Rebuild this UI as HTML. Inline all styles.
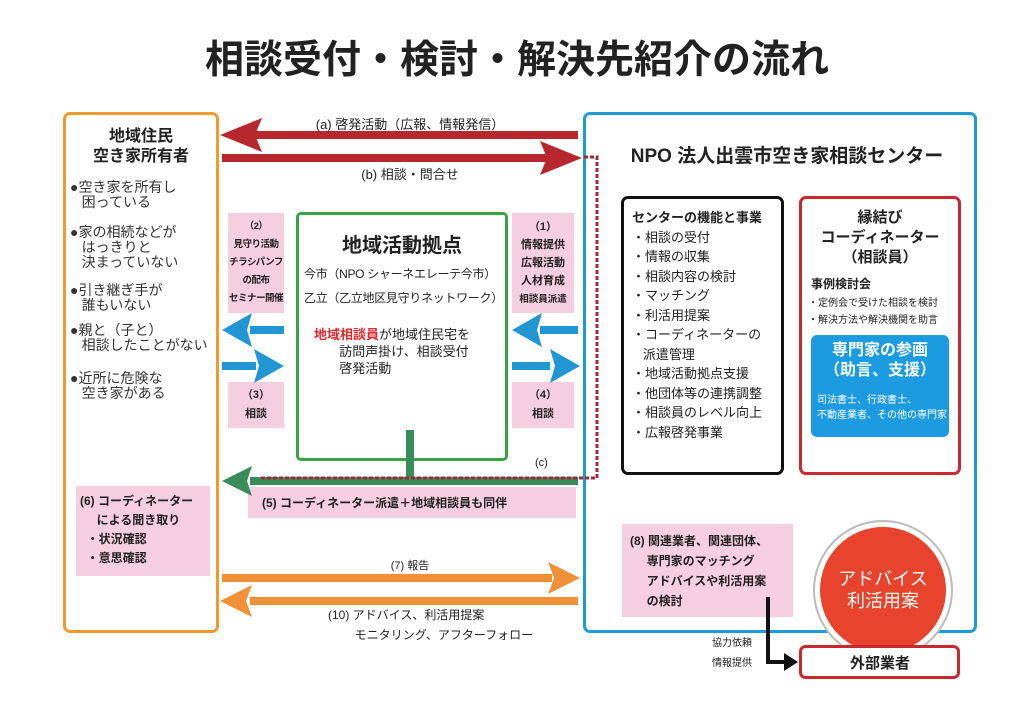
<!DOCTYPE html>
<html><head><meta charset="utf-8"><style>
body{margin:0;width:1024px;height:724px;background:#fff;position:relative;overflow:hidden;font-family:"Liberation Sans","Noto Sans CJK JP",sans-serif;color:#222}
.a{position:absolute}
.pk{position:absolute;background:#f5cfe0}
.b{font-weight:bold}
.c{text-align:center}
</style></head><body>
<div class="a b c" style="left:0;width:1034px;top:36px;font-size:39px;line-height:50px;color:#222">相談受付・検討・解決先紹介の流れ</div>

<div class="a" style="left:63px;top:112px;width:150px;height:515px;border:3px solid #f29a30;border-radius:7px"></div>
<div class="a" style="left:583px;top:112px;width:388px;height:515px;border:3px solid #1e9bd7;border-radius:7px"></div>

<div class="pk" style="left:228px;top:213px;width:56px;height:100px"></div>
<div class="pk" style="left:512px;top:213px;width:62px;height:100px"></div>
<div class="pk" style="left:228px;top:382px;width:56px;height:46px"></div>
<div class="pk" style="left:512px;top:382px;width:62px;height:46px"></div>
<div class="pk" style="left:248px;top:487px;width:328px;height:31px"></div>
<div class="pk" style="left:76px;top:486px;width:134px;height:90px"></div>
<div class="pk" style="left:622px;top:524px;width:171px;height:93px"></div>

<div class="a" style="left:296px;top:212px;width:206px;height:243px;border:3px solid #3aa148;border-radius:5px;background:#fff"></div>
<div class="a" style="left:621px;top:196px;width:157px;height:273px;border:3px solid #111;border-radius:7px"></div>
<div class="a" style="left:799px;top:196px;width:156px;height:273px;border:3px solid #c8282e;border-radius:7px"></div>
<div class="a" style="left:811px;top:335px;width:138px;height:102px;background:#1d9be0;border-radius:6px"></div>

<svg class="a" style="left:0;top:0" width="1024" height="724">
<g fill="#b7282e" stroke="none">
<rect x="255" y="131" width="323" height="8"/><polygon points="220,135 262,118 255,135 262,152"/>
<rect x="222" y="154" width="330" height="8"/><polygon points="582,158 540,141 547,158 540,175"/>
</g>
<g fill="#2295d3">
<rect x="250" y="326" width="34" height="8"/><polygon points="222,330 252,313 247,330 252,347"/>
<rect x="222" y="362" width="34" height="8"/><polygon points="284,366 254,349 259,366 254,383"/>
<rect x="540" y="326" width="38" height="8"/><polygon points="512,330 542,313 537,330 542,347"/>
<rect x="512" y="362" width="38" height="8"/><polygon points="580,366 550,349 555,366 550,383"/>
</g>
<g fill="#3a8c5a">
<rect x="406" y="430" width="8" height="52"/>
<rect x="250" y="477" width="328" height="8"/><polygon points="222,481 252,466 247,481 252,496"/>
</g>
<path d="M584 157 H597 V478 H260" fill="none" stroke="#a0283a" stroke-width="3" stroke-dasharray="4,2"/>
<g fill="#f0913a">
<rect x="222" y="574" width="330" height="8"/><polygon points="580,578 548,562 554,578 548,594"/>
<rect x="250" y="597" width="328" height="8"/><polygon points="220,601 252,585 246,601 252,617"/>
</g>
<circle cx="883" cy="590" r="69" fill="#fff" stroke="#bbb" stroke-width="2"/>
<circle cx="883" cy="590" r="63" fill="#e8432c"/>
<rect x="800.5" y="646.5" width="158" height="31" rx="5" fill="#fff" stroke="#c8282e" stroke-width="3"/>
<path d="M768 597 V662 H788" fill="none" stroke="#111" stroke-width="4"/>
<polygon points="798,662 784,653 784,671" fill="#111"/>
</svg>

<div class="a c" style="left:300px;width:220px;top:114px;font-size:13px">(a) 啓発活動（広報、情報発信）</div>
<div class="a c" style="left:300px;width:220px;top:164px;font-size:13px">(b) 相談・問合せ</div>

<div class="a b c" style="left:66px;width:150px;top:127px;font-size:16px;line-height:20px">地域住民<br>空き家所有者</div>
<div class="a" style="left:70px;top:180px;font-size:14px;line-height:15px;color:#333">●空き家を所有し<br>&nbsp;&nbsp;&nbsp;困っている<br><div style="height:15px"></div>●家の相続などが<br>&nbsp;&nbsp;&nbsp;はっきりと<br>&nbsp;&nbsp;&nbsp;決まっていない<br><div style="height:13px"></div>●引き継ぎ手が<br>&nbsp;&nbsp;&nbsp;誰もいない<br><div style="height:10px"></div>●親と（子と）<br>&nbsp;&nbsp;&nbsp;相談したことがない<br><div style="height:18px"></div>●近所に危険な<br>&nbsp;&nbsp;&nbsp;空き家がある</div>

<div class="a b c" style="left:226px;width:60px;top:218px;font-size:9.5px;line-height:18px;letter-spacing:-0.5px">（2）<br>見守り活動<br>チラシパンフ<br>の配布<br>セミナー開催</div>
<div class="a b c" style="left:510px;width:66px;top:218px;font-size:11px;line-height:18px">（1）<br>情報提供<br>広報活動<br>人材育成<br><span style="font-size:9.5px">相談員派遣</span></div>
<div class="a b c" style="left:226px;width:60px;top:386px;font-size:11px;line-height:19px">（3）<br>相談</div>
<div class="a b c" style="left:510px;width:66px;top:386px;font-size:11px;line-height:19px">（4）<br>相談</div>

<div class="a b c" style="left:299px;width:206px;top:229px;font-size:20px">地域活動拠点</div>
<div class="a" style="left:304px;top:262px;font-size:12px;line-height:24px;letter-spacing:-0.3px">今市（NPO シャーネエレーテ今市）<br>乙立（乙立地区見守りネットワーク）</div>
<div class="a" style="left:314px;top:326px;font-size:13px;line-height:17px"><span style="color:#e0282e;font-weight:bold">地域相談員</span>が地域住民宅を<br>&nbsp;&nbsp;&nbsp;&nbsp;&nbsp;&nbsp;&nbsp;訪問声掛け、相談受付<br>&nbsp;&nbsp;&nbsp;&nbsp;&nbsp;&nbsp;&nbsp;啓発活動</div>

<div class="a" style="left:535px;top:457px;font-size:11px">(c)</div>
<div class="a b" style="left:262px;top:494px;font-size:12px">(5) コーディネーター派遣＋地域相談員も同伴</div>
<div class="a b" style="left:80px;top:492px;font-size:12px;line-height:19px">(6) コーディネーター<br>&nbsp;&nbsp;&nbsp;&nbsp;&nbsp;による聞き取り<br>&nbsp;&nbsp;・状況確認<br>&nbsp;&nbsp;・意思確認</div>

<div class="a c" style="left:340px;width:140px;top:557px;font-size:11px">(7) 報告</div>
<div class="a" style="left:328px;top:605px;font-size:12px;line-height:20px">(10) アドバイス、利活用提案<br>&nbsp;&nbsp;&nbsp;&nbsp;&nbsp;&nbsp;&nbsp;&nbsp;モニタリング、アフターフォロー</div>

<div class="a b c" style="left:600px;width:374px;top:141px;font-size:19px">NPO 法人出雲市空き家相談センター</div>
<div class="a" style="left:632px;top:208px;font-size:13px;line-height:19.5px"><b>センターの機能と事業</b><br>・相談の受付<br>・情報の収集<br>・相談内容の検討<br>・マッチング<br>・利活用提案<br>・コーディネーターの<br>&nbsp;&nbsp;&nbsp;派遣管理<br>・地域活動拠点支援<br>・他団体等の連携調整<br>・相談員のレベル向上<br>・広報啓発事業</div>
<div class="a b c" style="left:800px;width:160px;top:208px;font-size:15px;line-height:20px">縁結び<br>コーディネーター<br>（相談員）</div>
<div class="a b" style="left:811px;top:275px;font-size:12px">事例検討会</div>
<div class="a" style="left:808px;top:295px;font-size:10px;line-height:17px">・定例会で受けた相談を検討<br>・解決方法や解決機関を助言</div>
<div class="a b c" style="left:811px;width:138px;top:341px;font-size:16px;line-height:20px;color:#fff">専門家の参画<br>（助言、支援）</div>
<div class="a" style="left:817px;top:393px;font-size:10px;line-height:15px;color:#fff">司法書士、行政書士、<br>不動産業者、その他の専門家</div>

<div class="a b" style="left:630px;top:531px;font-size:12px;line-height:20px">(8) 関連業者、関連団体、<br>&nbsp;&nbsp;&nbsp;&nbsp;&nbsp;専門家のマッチング<br>&nbsp;&nbsp;&nbsp;&nbsp;&nbsp;アドバイスや利活用案<br>&nbsp;&nbsp;&nbsp;&nbsp;&nbsp;の検討</div>
<div class="a c" style="left:819px;width:128px;top:568px;font-size:18px;line-height:22px;color:#fff">アドバイス<br>利活用案</div>
<div class="a" style="left:712px;top:634px;font-size:10px;line-height:20px">協力依頼<br>情報提供</div>
<div class="a b c" style="left:800px;width:160px;top:652px;font-size:15px">外部業者</div>
</body></html>
